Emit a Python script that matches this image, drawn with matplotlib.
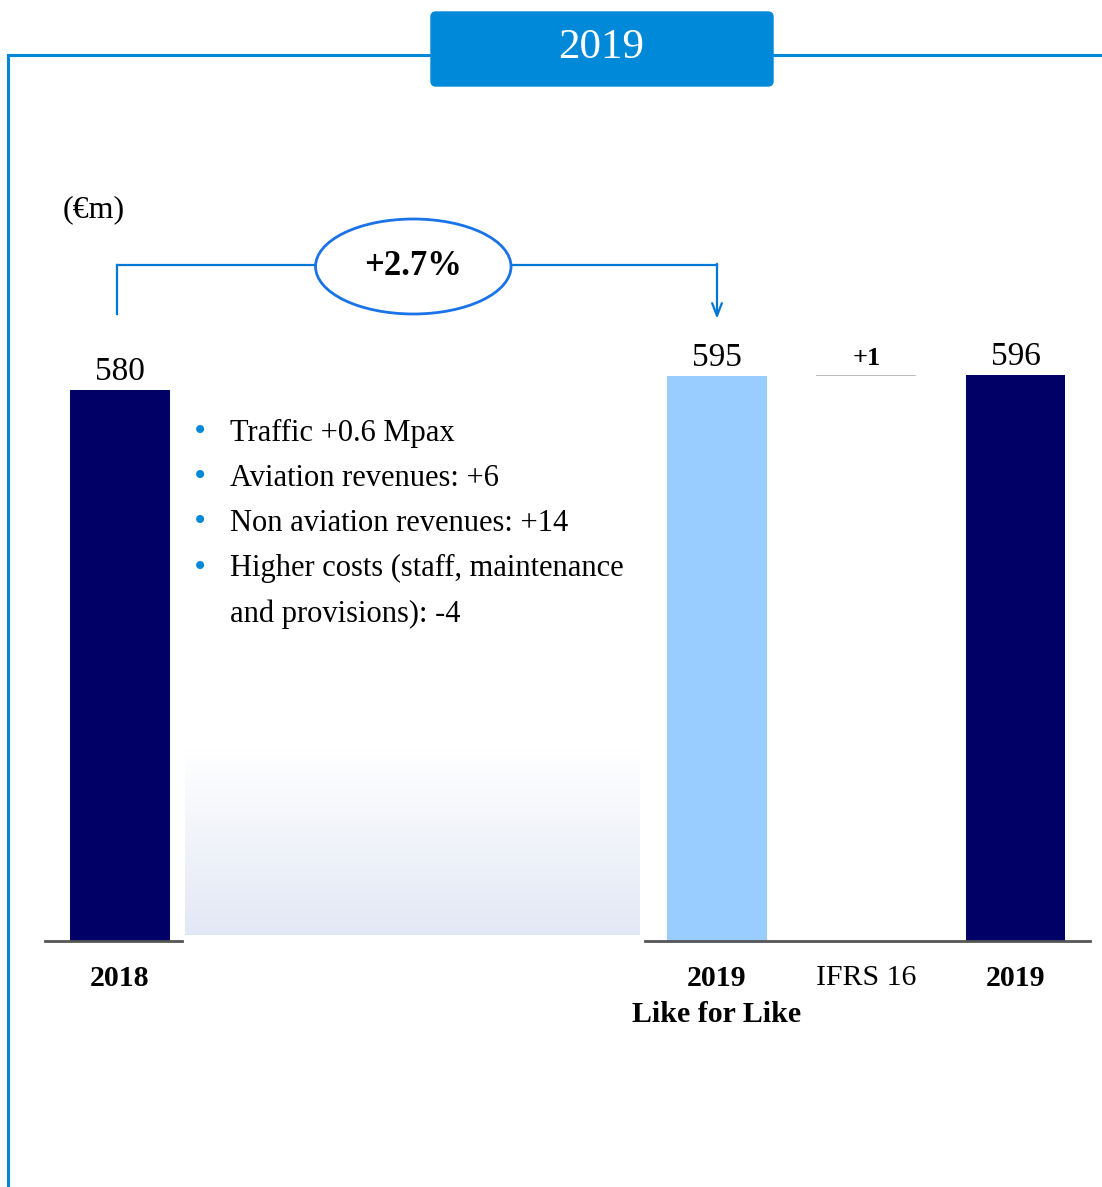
"""EBITDA bridge 2018 -> 2019 (like for like + IFRS 16)."""
import numpy as np
import matplotlib
matplotlib.use("Agg")
import matplotlib.pyplot as plt
from matplotlib.patches import FancyBboxPatch, Ellipse

# data
categorias = ["2018", "2019\nLike for Like", "IFRS 16", "2019"]
posicoes = [0, 4, 5, 6]
valores = [580, 595, 1, 596]
bases = [0, 0, 595, 0]
rotulos = ["580", "595", "+1", "596"]
cat_negrito = [True, True, False, True]
cores = ["#000066", "#99ccff", "#bfbfbf", "#000066"]
variacao = "+2.7%"
unidade = "(€m)"
titulo = "2019"
bullets = [
    ("Traffic +0.6 Mpax", True),
    ("Aviation revenues: +6", True),
    ("Non aviation revenues: +14", True),
    ("Higher costs (staff, maintenance", True),
    ("and provisions): -4", False),
]

W, H = 1102, 1187
AZUL = "#0089d9"
FONTE = "Liberation Serif"

fig = plt.figure(figsize=(W / 100, H / 100), dpi=100)

# fundo em coordenadas de pixel
bg = fig.add_axes([0, 0, 1, 1])
bg.set_xlim(0, W)
bg.set_ylim(H, 0)
bg.axis("off")

# moldura
bg.plot([8, 8], [H, 55], color=AZUL, lw=2.2, solid_capstyle="butt")
bg.plot([8, 432], [55, 55], color=AZUL, lw=2.2)
bg.plot([772, W], [55, 55], color=AZUL, lw=2.2)
bg.add_patch(FancyBboxPatch((431, 12), 342, 74, boxstyle="round,pad=0,rounding_size=5",
                            facecolor=AZUL, edgecolor=AZUL, lw=1))
bg.text(601, 48, titulo, color="white", fontsize=31, family=FONTE,
        ha="center", va="center")

# gradiente atrás do texto
grad = np.linspace(0, 1, 100).reshape(-1, 1)
topo = np.array([1.0, 1.0, 1.0])
fundo = np.array([0.886, 0.910, 0.961])
img = topo + grad[..., None] * (fundo - topo)
bg.imshow(img, extent=(185, 640, 935, 748), aspect="auto", zorder=1)

bg.text(63, 210, unidade, fontsize=23, family=FONTE, va="center")

# bullets
for i, (txt, tem_bullet) in enumerate(bullets):
    y = 433 + i * 45.2
    if tem_bullet:
        bg.text(200, y - 2, "•", color=AZUL, fontsize=20, ha="center", va="center")
    bg.text(230, y, txt, fontsize=22, family=FONTE, va="center")

# barras
ax = fig.add_axes([0, 0, 1, 1])
ax.patch.set_alpha(0)
ax.axis("off")
passo, x0 = 149.25, 120
py, base_px = 0.95, 246
ax.set_xlim(-x0 / passo, (W - x0) / passo)
ax.set_ylim(-base_px / py, (H - base_px) / py)

ax.bar(posicoes, valores, bottom=bases, width=0.67, color=cores, zorder=3)
ax.plot([-0.5, 0.415], [0, 0], color="#555555", lw=2, zorder=4)
ax.plot([3.52, 6.5], [0, 0], color="#555555", lw=2, zorder=4)

for x, v, b, r in zip(posicoes, valores, bases, rotulos):
    ax.annotate(r, (x, v + b), xytext=(0, 7), textcoords="offset points",
                ha="center", va="baseline", fontsize=24 if r[0] != "+" else 19,
                family=FONTE, fontweight="bold" if r[0] == "+" else "normal")

for x, c, neg in zip(posicoes, categorias, cat_negrito):
    ax.annotate(c, (x, 0), xytext=(0, -17), textcoords="offset points",
                ha="center", va="top", fontsize=21.5, family=FONTE,
                fontweight="bold" if neg else "normal", linespacing=1.45)

# chave com a variação
linha = "#0077d4"
y_top = 712
ax.plot([posicoes[0] - 0.02, posicoes[0] - 0.02], [660, y_top], color=linha, lw=1.6)
ax.plot([posicoes[0] - 0.02, 1.31], [y_top, y_top], color=linha, lw=1.6)
ax.plot([2.62, posicoes[1]], [y_top, y_top], color=linha, lw=1.6)
ax.annotate("", xy=(posicoes[1], 655), xytext=(posicoes[1], y_top + 0.8),
            arrowprops=dict(arrowstyle="->,head_length=0.9,head_width=0.35",
                            color=linha, lw=1.6, shrinkA=0, shrinkB=0))
ax.add_patch(Ellipse((1.965, 710), 1.31, 100, facecolor="white",
                     edgecolor="#1a73e8", lw=2, zorder=5))
ax.text(1.965, 710, variacao, ha="center", va="center", fontsize=25,
        family=FONTE, fontweight="bold", zorder=6)

fig.savefig("out.png", dpi=100)
